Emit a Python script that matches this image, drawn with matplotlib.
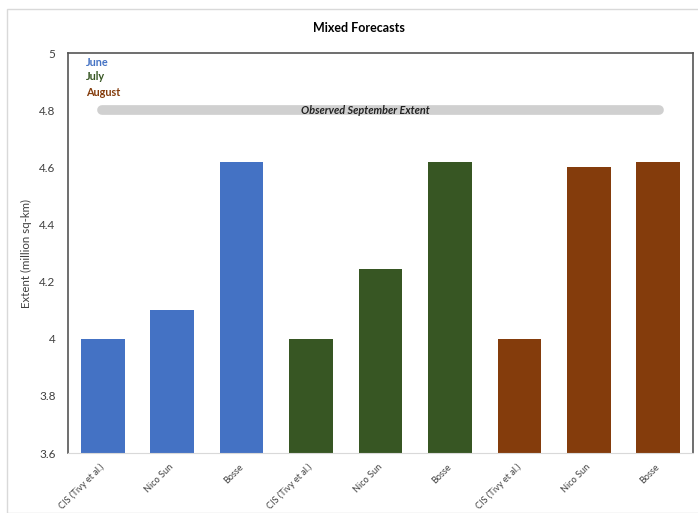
import numpy as np
import matplotlib.pyplot as plt
from matplotlib.patches import Rectangle

plt.rcParams['font.family'] = ['Lato', 'DejaVu Sans']

labels = ['CIS (Tivy et al.)', 'Nico Sun', 'Bosse'] * 3
june = [4.0, 4.1, 4.62]
july = [4.0, 4.245, 4.62]
august = [4.0, 4.6, 4.62]
months = ['June', 'July', 'August']
colors = ['#4472C4', '#375623', '#843C0C']
observed = 4.8

fig = plt.figure(figsize=(6.98, 5.13), dpi=100)
ax = fig.add_axes([68 / 698, 1 - 453 / 513, 625 / 698, 400 / 513])

x = np.arange(9)
vals = june + july + august
bar_colors = [c for c in colors for _ in range(3)]
ax.bar(x, vals, width=0.63, color=bar_colors, zorder=2)

ax.set_ylim(3.6, 5.0)
ax.set_xlim(-0.5, 8.5)
ax.set_yticks([3.6, 3.8, 4.0, 4.2, 4.4, 4.6, 4.8, 5.0])
ax.set_yticklabels(['3.6', '3.8', '4', '4.2', '4.4', '4.6', '4.8', '5'],
                   fontsize=8.5, color='#404040')
ax.set_xticks(x)
ax.set_xticklabels(labels, rotation=45, ha='right', va='center',
                   rotation_mode='anchor', fontsize=6.6, color='#404040')
ax.tick_params(axis='x', length=0, pad=9)
ax.tick_params(axis='y', length=0, pad=9)
ax.set_ylabel('Extent (million sq-km)', fontsize=8.3, color='#404040')
ax.yaxis.set_label_coords(-0.058, 0.5)

for s in ['left', 'top', 'right']:
    ax.spines[s].set_color('#555555')
    ax.spines[s].set_linewidth(1.2)
ax.spines['bottom'].set_color('#d9d9d9')

# observed extent band
ax.plot([-0.01, 8.01], [observed, observed], color='#d0d0d0', lw=7,
        solid_capstyle='round', zorder=1)
ax.text(3.78, observed, 'Observed September Extent', ha='center', va='center',
        fontsize=7.8, style='italic', fontweight='bold', color='#222222', zorder=3)

for i, (m, c) in enumerate(zip(months, colors)):
    ax.text((86 - 68) / 625, 1 - (62 - 53 + 15 * i) / 400, m,
            transform=ax.transAxes, color=c,
            fontsize=7.8, fontweight='bold', va='center')

fig.text(359 / 698, 1 - 28 / 513, 'Mixed Forecasts', ha='center', va='center',
         fontsize=9, fontweight='bold')
fig.patches.append(Rectangle((7 / 698, 0), 1, 1 - 9 / 513, transform=fig.transFigure,
                             fill=False, edgecolor='#d9d9d9', lw=1))

fig.savefig('out.png', dpi=100)
